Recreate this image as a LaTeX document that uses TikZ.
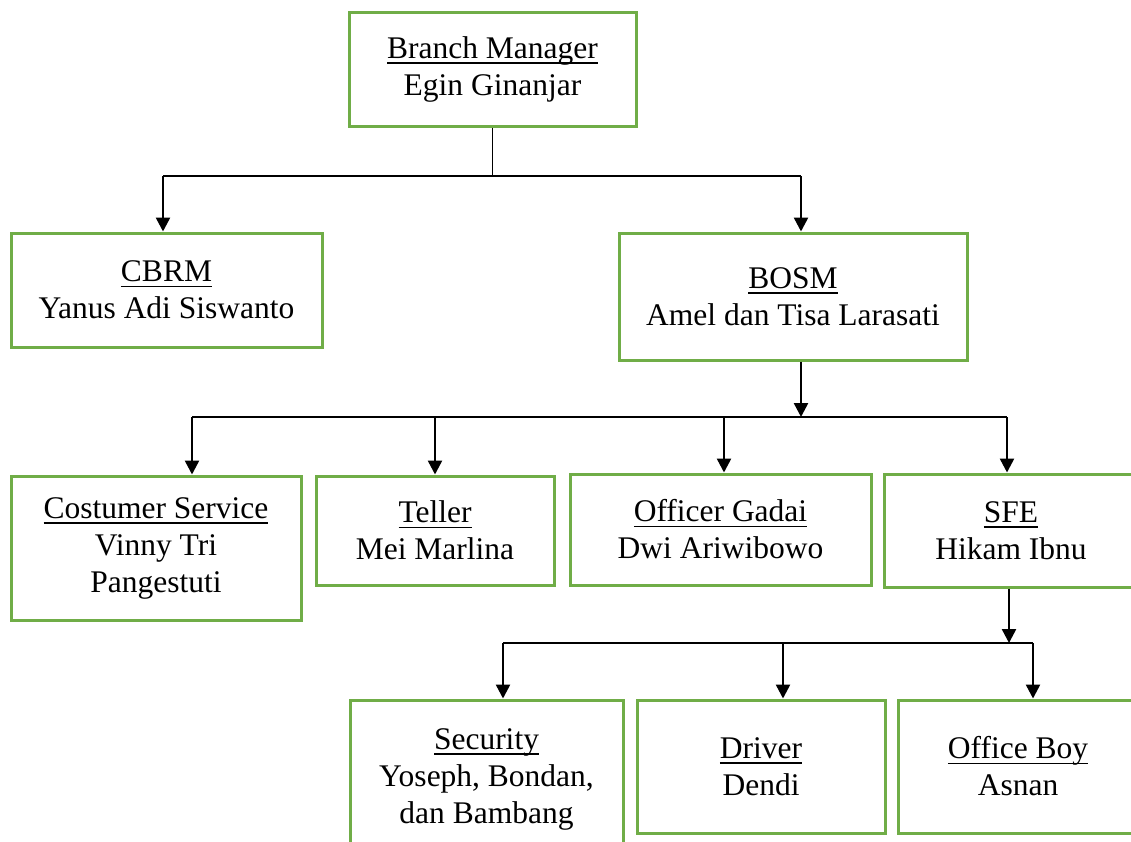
\documentclass[tikz,border=0pt]{standalone}
\usepackage{fontspec}
\setmainfont{Liberation Serif}
\usetikzlibrary{arrows.meta}
\newlength{\du}
\setlength{\du}{1pt}
% garis bawah ala word
\newcommand{\jabatan}[1]{\setbox0\hbox{#1}\rlap{\rule[-5.5pt]{\wd0}{1.5pt}}\box0}

\begin{document}
\begin{tikzpicture}[even odd rule,
  kotak/.style={draw=diagreencolor, line width=3\du, fill=white, align=center, inner sep=0pt,
    font=\fontsize{31.5}{37}\selectfont},
  garis/.style={draw=dialinecolor, line width=1.5\du},
  panah/.style={draw=dialinecolor, line width=2.5\du, -{Triangle[width=14pt,length=14pt]}}]
\pgftransformxscale{1.000000}
\pgftransformyscale{-1.000000}
\definecolor{dialinecolor}{rgb}{0.000000, 0.000000, 0.000000}
\definecolor{diagreencolor}{rgb}{0.439216, 0.678431, 0.278431}
\useasboundingbox (0.000000\du,0.000000\du) rectangle (1131.000000\du,841.000000\du);
% kotak jabatan
\node[kotak, minimum width=287\du, minimum height=114\du] (bm) at (492.500000\du,69.000000\du) {\jabatan{Branch Manager}\\Egin Ginanjar};
\node[kotak, minimum width=311\du, minimum height=114\du] (cbrm) at (166.500000\du,290.000000\du) {\jabatan{CBRM}\\Yanus Adi Siswanto};
\node[kotak, minimum width=348\du, minimum height=127\du] (bosm) at (793.000000\du,296.500000\du) {\jabatan{BOSM}\\Amel dan Tisa Larasati};
\node[kotak, minimum width=290\du, minimum height=144\du] (cs) at (156.000000\du,548.000000\du) {\jabatan{Costumer Service}\\Vinny Tri\\Pangestuti};
\node[kotak, minimum width=238\du, minimum height=109\du] (teller) at (435.000000\du,530.500000\du) {\jabatan{Teller}\\Mei Marlina};
\node[kotak, minimum width=301\du, minimum height=111\du] (og) at (720.500000\du,529.500000\du) {\jabatan{Officer Gadai}\\Dwi Ariwibowo};
\node[kotak, minimum width=254\du, minimum height=113\du] (sfe) at (1011.000000\du,530.500000\du) {\jabatan{SFE}\\Hikam Ibnu};
\node[kotak, minimum width=273\du, minimum height=158\du] (sec) at (486.500000\du,779.000000\du) {\jabatan{Security}\\Yoseph, Bondan,\\dan Bambang};
\node[kotak, minimum width=248\du, minimum height=133\du] (drv) at (761.000000\du,766.500000\du) {\jabatan{Driver}\\Dendi};
\node[kotak, minimum width=240\du, minimum height=133\du] (ob) at (1018.000000\du,766.500000\du) {\jabatan{Office Boy}\\Asnan};
% titik cabang
\coordinate (t1) at (163.000000\du,176.000000\du);
\coordinate (t2) at (801.000000\du,176.000000\du);
\coordinate (s0) at (801.000000\du,417.000000\du);
\coordinate (s1) at (192.000000\du,417.000000\du);
\coordinate (s3) at (724.000000\du,417.000000\du);
\coordinate (s4) at (1007.000000\du,417.000000\du);
\coordinate (u0) at (1009.000000\du,643.000000\du);
\coordinate (u1) at (503.000000\du,643.000000\du);
\coordinate (u2) at (783.000000\du,643.000000\du);
\coordinate (u3) at (1033.000000\du,643.000000\du);
% branch manager ke cbrm dan bosm
\draw[garis] (bm.south) -- (bm.south |- t1);
\draw[garis] (t1) -- (t2);
\draw[panah] (t1) -- (t1 |- cbrm.north);
\draw[panah] (t2) -- (t2 |- bosm.north);
% bosm ke bawah
\draw[panah] (s0 |- bosm.south) -- (s0);
\draw[garis] (s1) -- (s4);
\draw[panah] (s1) -- (s1 |- cs.north);
\draw[panah] (teller.north |- s1) -- (teller.north);
\draw[panah] (s3) -- (s3 |- og.north);
\draw[panah] (s4) -- (s4 |- sfe.north);
% sfe ke bawah
\draw[panah] (u0 |- sfe.south) -- (u0);
\draw[garis] (u1) -- (u3);
\draw[panah] (u1) -- (u1 |- sec.north);
\draw[panah] (u2) -- (u2 |- drv.north);
\draw[panah] (u3) -- (u3 |- ob.north);
\end{tikzpicture}
\end{document}
